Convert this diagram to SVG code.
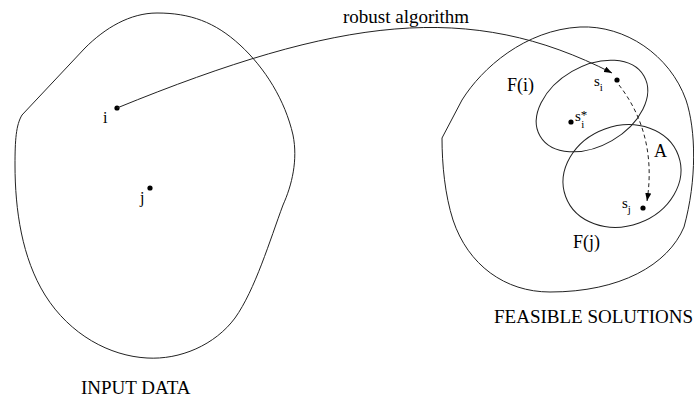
<svg xmlns="http://www.w3.org/2000/svg" width="694" height="400" viewBox="0 0 694 400">
  <style>
    .outline { fill: none; stroke: #222; stroke-width: 1; }
    .pt { fill: #000; }
    .lbl { font-family: "Liberation Serif", "Times New Roman", serif; fill: #000; }
    .big { font-size: 19px; }
    .mid { font-size: 18px; }
    .var { font-size: 16px; }
    .sym { font-size: 15px; }
    .sub { font-size: 11px; }
    .star { font-size: 13px; }
    .conn { fill: none; stroke: #222; stroke-width: 1; }
    .dash { stroke-dasharray: 4 3; }
  </style>
  <defs>
    <marker id="arrowhead" markerUnits="userSpaceOnUse" markerWidth="9" markerHeight="6" refX="8" refY="3" orient="auto">
      <path d="M0,0 L8,3 L0,6 Z" fill="#000"/>
    </marker>
  </defs>

  <!-- input data set -->
  <g id="input-data">
    <path class="outline" d="M157,13 C190,13 215,22 240,45 C265,68 285,100 293,135 C298,160 292,185 283,205 C270,240 255,290 235,318 C215,345 180,360 147,358 C110,356 70,335 45,295 C22,258 15,210 15,165 C15,140 16,125 22,115 L85,48 C105,28 130,13 157,13 Z"/>
    <text class="lbl big" x="81" y="394">INPUT DATA</text>
  </g>

  <g id="input-i">
    <circle class="pt" cx="117" cy="108" r="2.6"/>
    <text class="lbl var" x="103" y="123">i</text>
  </g>

  <g id="input-j">
    <circle class="pt" cx="150" cy="188" r="2.6"/>
    <text class="lbl var" x="140" y="203">j</text>
  </g>

  <!-- feasible solution space -->
  <g id="feasible-solutions">
    <path class="outline" d="M442,138 L462,100 C482,68 525,30 580,27 C625,25 670,55 686,100 C696,130 697,180 684,227 C668,265 620,292 550,292 C505,292 468,265 453,220 C445,195 442,165 442,138 Z"/>
    <text class="lbl big" x="494" y="323">FEASIBLE SOLUTIONS</text>
  </g>

  <g id="F-i">
    <ellipse class="outline" cx="592" cy="106" rx="60" ry="40" transform="rotate(-30 592 106)"/>
    <text class="lbl mid" x="507" y="91">F(i)</text>
  </g>

  <g id="F-j">
    <ellipse class="outline" cx="622" cy="176" rx="60" ry="50" transform="rotate(-20 622 176)"/>
    <text class="lbl mid" x="573" y="248">F(j)</text>
  </g>

  <g id="s-i">
    <circle class="pt" cx="617" cy="80" r="2.6"/>
    <text class="lbl sym" x="594" y="86">s<tspan class="sub" dy="5">i</tspan></text>
  </g>

  <g id="s-star-i">
    <circle class="pt" cx="571" cy="122" r="2.6"/>
    <text class="lbl sym" x="575" y="121">s<tspan class="star" dy="-2">*</tspan><tspan class="sub" dx="-6" dy="9">i</tspan></text>
  </g>

  <g id="s-j">
    <circle class="pt" cx="643" cy="208" r="2.6"/>
    <text class="lbl sym" x="622" y="208">s<tspan class="sub" dy="5">j</tspan></text>
  </g>

  <!-- connectors -->
  <g id="connectors">
    <path class="conn" d="M117,108 C340,17 470,0 612,73" marker-end="url(#arrowhead)"/>
    <text class="lbl big" x="343" y="23">robust algorithm</text>
    <path class="conn dash" d="M619,85 C640,112 655,150 647,201" marker-end="url(#arrowhead)"/>
    <text class="lbl mid" x="654" y="157">A</text>
  </g>
</svg>
